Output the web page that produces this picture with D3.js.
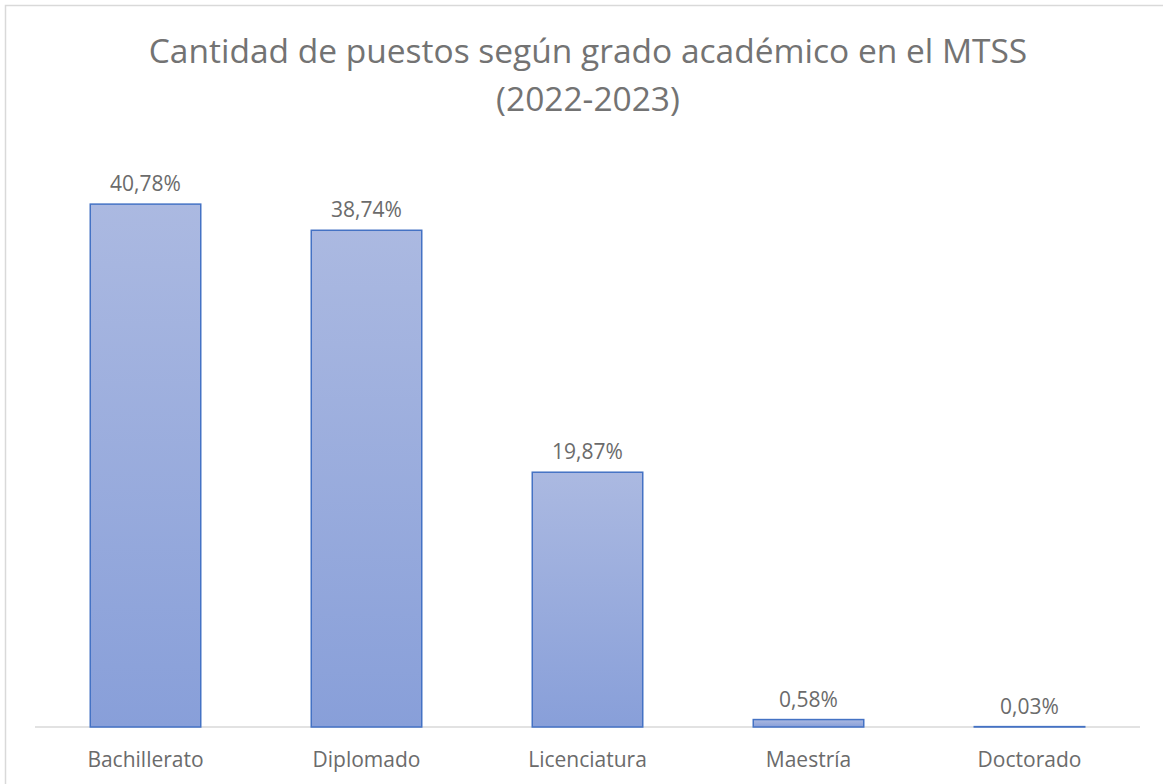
<!doctype html>
<html>
  <head>
    <meta charset="utf-8">
    <script src="https://cdn.jsdelivr.net/npm/d3@7"></script>
    <style>
      body { margin: 0; background: #fff; }
      text { font-family: "Open Sans", "Liberation Sans", sans-serif; fill: #6b6b6b; }
    </style>
  </head>
  <body>
    <div id="my_dataviz"></div>
    <script>
      // data
      var categories = ["Bachillerato", "Diplomado", "Licenciatura", "Maestría", "Doctorado"];
      var values = [40.78, 38.74, 19.87, 0.58, 0.03];
      var labels = ["40,78%", "38,74%", "19,87%", "0,58%", "0,03%"];
      var titleLines = ["Cantidad de puestos según grado académico en el MTSS", "(2022-2023)"];

      var W = 1163, H = 784;
      var plot = {left: 35, right: 1140, top: 150, bottom: 727};

      var svg = d3.select("#my_dataviz")
        .append("svg")
          .attr("width", W)
          .attr("height", H);

      // gradient for bars
      var grad = svg.append("defs").append("linearGradient")
        .attr("id", "barGrad")
        .attr("x1", 0).attr("y1", 0).attr("x2", 0).attr("y2", 1);
      grad.append("stop").attr("offset", "0%").attr("stop-color", "#abb9e1");
      grad.append("stop").attr("offset", "100%").attr("stop-color", "#889fd9");

      // outer border
      svg.append("rect")
        .attr("x", 5.5).attr("y", 5.5)
        .attr("width", W + 10).attr("height", H + 10)
        .attr("fill", "none")
        .attr("stroke", "#d9d9d9")
        .attr("stroke-width", 1.5);

      // title
      svg.selectAll(".title")
        .data(titleLines)
        .enter()
        .append("text")
          .attr("x", 588)
          .attr("y", function(d, i) { return 63 + i * 48; })
          .attr("text-anchor", "middle")
          .style("font-size", "33.5px")
          .style("fill", "#737373")
          .text(function(d) { return d; });

      var x = d3.scaleBand()
        .domain(categories)
        .range([plot.left, plot.right])
        .paddingInner(0.5)
        .paddingOuter(0.25);

      var y = d3.scaleLinear()
        .domain([0, 45])
        .range([plot.bottom, plot.top]);

      // baseline
      svg.append("line")
        .attr("x1", plot.left).attr("x2", plot.right)
        .attr("y1", y(0)).attr("y2", y(0))
        .attr("stroke", "#d9d9d9")
        .attr("stroke-width", 1.5);

      var data = categories.map(function(c, i) { return {cat: c, val: values[i], lab: labels[i]}; });

      // bars
      svg.selectAll("rect.bar")
        .data(data)
        .enter()
        .append("rect")
          .attr("class", "bar")
          .attr("x", function(d) { return x(d.cat); })
          .attr("y", function(d) { return y(d.val); })
          .attr("width", x.bandwidth())
          .attr("height", function(d) { return y(0) - y(d.val); })
          .attr("fill", "url(#barGrad)")
          .attr("stroke", "#4472c4")
          .attr("stroke-width", 1.5);

      // value labels
      svg.selectAll("text.val")
        .data(data)
        .enter()
        .append("text")
          .attr("class", "val")
          .attr("x", function(d) { return x(d.cat) + x.bandwidth() / 2; })
          .attr("y", function(d) { return y(d.val) - 13; })
          .attr("text-anchor", "middle")
          .style("font-size", "21px")
          .text(function(d) { return d.lab; });

      // category axis labels
      var axis = svg.append("g")
        .attr("transform", "translate(0," + y(0) + ")")
        .call(d3.axisBottom(x).tickSize(0).tickPadding(25));
      axis.select(".domain").remove();
      axis.selectAll("text")
        .style("font-size", "21px")
        .style("font-family", "'Open Sans', 'Liberation Sans', sans-serif")
        .attr("fill", "#6b6b6b");
    </script>
  </body>
</html>
